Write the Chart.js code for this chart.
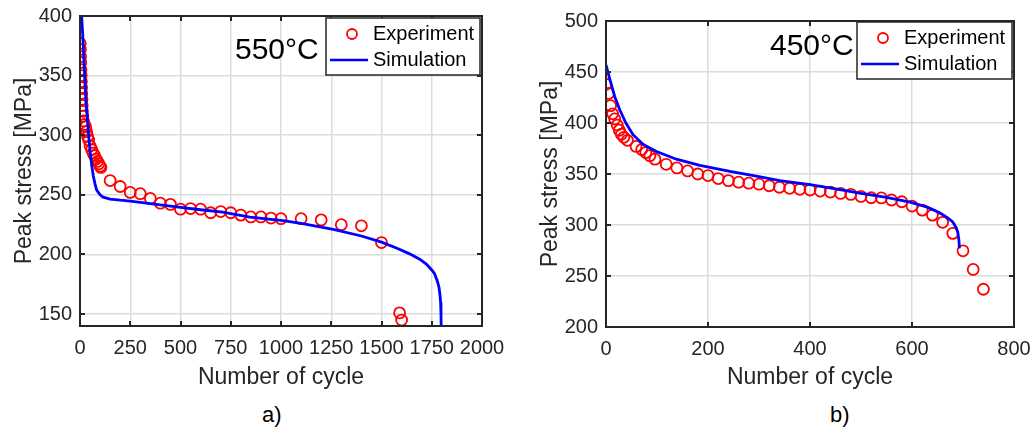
<!DOCTYPE html>
<html><head><meta charset="utf-8">
<script src="https://cdn.jsdelivr.net/npm/chart.js@4.4.0/dist/chart.umd.min.js"></script>
<style>
html,body{margin:0;padding:0;background:#fff;width:1032px;height:435px;overflow:hidden;}
.wrap{position:absolute;}
.cap{position:absolute;font-family:"Liberation Sans",Arial,sans-serif;font-size:22px;color:#000;}
</style></head><body>
<div class="wrap" style="left:0;top:0;width:510px;height:400px"><canvas id="c1" width="510" height="400"></canvas></div>
<div class="wrap" style="left:516px;top:0;width:516px;height:400px"><canvas id="c2" width="516" height="400"></canvas></div>
<div class="cap" style="left:262px;top:402px">a)</div>
<div class="cap" style="left:830px;top:402px">b)</div>
<script>
// ---------- Data: 550°C ----------
const expCycles550 = [1,2,3,4,5,6,7,8,9,10,11,12,14,17,22,28,33,38,43,50,58,65,72,80,87,94,100,104,150,200,250,300,350,400,450,500,550,600,650,700,750,800,850,900,950,1000,1100,1200,1300,1400,1500,1590,1600];
const expStress550 = [377,372,366,361,355,350,345,340,335,330,325,320,316,312,309,307,303,299,296,291,288,285,283,280,278,276,274,273,262,257,252,251,247,243,242,238,238.5,238,235,236,235,233,231.5,231.5,230.5,230,230,229,225,224,210,151,145];
const simCycles550 = [8,13,19,25,30,36,43,50,58,66,75,83,100,115,150,200,250,380,500,600,710,845,1010,1100,1260,1400,1500,1580,1640,1690,1723,1750,1764,1778,1786,1791,1794,1796,1797];
const simStress550 = [400,386,365,344,328,315,300,287,275,266,259,254,250,248,246.5,245.5,244.8,242,239.5,237.5,235.6,231.4,228.4,226,221,215.5,210.3,205,200.5,196,192,187,183.8,177.5,172.5,166,160,150,140];
const xTicks550 = [0,250,500,750,1000,1250,1500,1750,2000];
const yTicks550 = [150,200,250,300,350,400];

// ---------- Data: 450°C ----------
const expCycles450 = [0,5,9,13,17,22,26,30,35,42,59,70,78,86,96,118,139,160,180,200,220,240,260,280,300,320,340,360,380,400,420,440,460,480,500,520,540,560,580,600,620,640,660,680,700,720,740];
const expStress450 = [438,429,417,409,404,398,393,389,386,383,377,374,371,368,364.5,359.5,356,353,350,348.5,345.5,343.5,342,341,340,338.5,337,336,335,334.3,333.3,332.3,331,330,328,326.7,326.5,324.5,322.8,318.6,314.6,309.7,302.6,291.8,274.7,256.4,237];
const simCycles450 = [0,8,17,27,39,53,73,99,138,184,243,300,341,400,450,500,550,596,630,654,670,680,687,690,692,693];
const simStress450 = [457,442,426,413,400,388.5,379,372,364.5,358.5,352.5,347.5,343.5,339.5,335.5,331,327,322.5,317.5,312,307,303,297,292,285,277];
const xTicks450 = [0,200,400,600,800];
const yTicks450 = [200,250,300,350,400,450,500];

const FONT = '"Liberation Sans", Arial, sans-serif';
const pts = (xs, ys) => xs.map((x, i) => ({x, y: ys[i]}));

const framePlugin = {
  id: 'frame',
  afterDraw(chart, args, o) {
    const {ctx, chartArea: a, scales: {x, y}} = chart;
    ctx.save();
    ctx.strokeStyle = '#262626';
    ctx.lineWidth = 2;
    const tl = 5;
    ctx.beginPath();
    x.ticks.forEach(t => {
      const px = Math.round(x.getPixelForValue(t.value));
      ctx.moveTo(px, a.bottom); ctx.lineTo(px, a.bottom - tl);
      ctx.moveTo(px, a.top); ctx.lineTo(px, a.top + tl);
    });
    y.ticks.forEach(t => {
      const py = Math.round(y.getPixelForValue(t.value));
      ctx.moveTo(a.left, py); ctx.lineTo(a.left + tl, py);
      ctx.moveTo(a.right, py); ctx.lineTo(a.right - tl, py);
    });
    ctx.stroke();
    ctx.strokeRect(a.left, a.top, a.right - a.left, a.bottom - a.top);
    // temperature label
    ctx.fillStyle = '#000';
    ctx.font = '30px ' + FONT;
    ctx.textBaseline = 'middle';
    ctx.textAlign = 'left';
    ctx.fillText(o.label, o.labelX, o.labelY);
    // legend
    const L = o.legend;
    ctx.fillStyle = '#fff';
    ctx.fillRect(L.x, L.y, L.w, L.h);
    ctx.lineWidth = 1.5;
    ctx.strokeStyle = '#262626';
    ctx.strokeRect(L.x, L.y, L.w, L.h);
    ctx.strokeStyle = '#ff0000';
    ctx.lineWidth = 1.8;
    ctx.beginPath();
    ctx.arc(L.x + 26, L.y + 16, 5, 0, Math.PI * 2);
    ctx.stroke();
    ctx.strokeStyle = '#0000ff';
    ctx.lineWidth = 2.5;
    ctx.beginPath();
    ctx.moveTo(L.x + 4, L.y + 42); ctx.lineTo(L.x + 42, L.y + 42);
    ctx.stroke();
    ctx.fillStyle = '#000';
    ctx.font = '20px ' + FONT;
    ctx.fillText(o.names[0], L.x + 47, L.y + 16);
    ctx.fillText(o.names[1], L.x + 47, L.y + 42);
    ctx.restore();
  }
};

function makeChart(id, cfg) {
  const tickFont = {family: FONT, size: 20};
  const titleFont = {family: FONT, size: 23};
  const grid = {color: '#dcdcdc', lineWidth: 1.5, drawTicks: false};
  return new Chart(document.getElementById(id), {
    type: 'line',
    data: {
      datasets: [
        {label: 'Experiment', data: pts(cfg.expX, cfg.expY), showLine: false,
         pointStyle: 'circle', pointRadius: 5.5, pointBorderWidth: 1.8,
         pointBorderColor: '#ff0000', pointBackgroundColor: 'rgba(0,0,0,0)', order: 1},
        {label: 'Simulation', data: pts(cfg.simX, cfg.simY), borderColor: '#0000ff',
         borderWidth: 2.8, pointRadius: 0, tension: 0, fill: false, order: 0}
      ]
    },
    options: {
      responsive: false, animation: false, events: [],
      layout: {padding: cfg.padding},
      plugins: {
        legend: {display: false}, tooltip: {enabled: false},
        frame: cfg.frame
      },
      scales: {
        x: {
          type: 'linear', min: cfg.xMin, max: cfg.xMax,
          afterBuildTicks: s => { s.ticks = cfg.xTicks.map(v => ({value: v})); },
          afterFit: s => { s.height = cfg.xH; s.paddingLeft = 0; s.paddingRight = 0; },
          grid, border: {display: false},
          ticks: {color: '#262626', font: tickFont, padding: 10, maxRotation: 0, autoSkip: false,
                  callback: v => String(v)},
          title: {display: true, text: 'Number of cycle', color: '#262626', font: titleFont, padding: {top: 0, bottom: 9}}
        },
        y: {
          type: 'linear', min: cfg.yMin, max: cfg.yMax,
          afterBuildTicks: s => { s.ticks = cfg.yTicks.map(v => ({value: v})); },
          afterFit: s => { s.width = cfg.yW; s.paddingTop = 0; s.paddingBottom = 0; },
          grid, border: {display: false},
          ticks: {color: '#262626', font: tickFont, padding: 8, autoSkip: false,
                  callback: v => String(v)},
          title: {display: true, text: 'Peak stress [MPa]', color: '#262626', font: titleFont, padding: {top: cfg.yTitlePad, bottom: 0}}
        }
      }
    },
    plugins: [framePlugin]
  });
}

makeChart('c1', {
  expX: expCycles550, expY: expStress550, simX: simCycles550, simY: simStress550,
  xMin: 0, xMax: 2000, yMin: 140, yMax: 400, xTicks: xTicks550, yTicks: yTicks550,
  padding: {left: 0, top: 16, right: 28, bottom: 0}, xH: 74, yW: 80, yTitlePad: 11,
  frame: {label: '550°C', labelX: 235, labelY: 51, names: ['Experiment', 'Simulation'],
          legend: {x: 326, y: 18, w: 154, h: 57}}
});
makeChart('c2', {
  expX: expCycles450, expY: expStress450, simX: simCycles450, simY: simStress450,
  xMin: 0, xMax: 800, yMin: 200, yMax: 500, xTicks: xTicks450, yTicks: yTicks450,
  padding: {left: 0, top: 21, right: 18, bottom: 0}, xH: 73, yW: 90, yTitlePad: 21,
  frame: {label: '450°C', labelX: 254, labelY: 47, names: ['Experiment', 'Simulation'],
          legend: {x: 341, y: 22, w: 155, h: 57}}
});
</script>
</body></html>
